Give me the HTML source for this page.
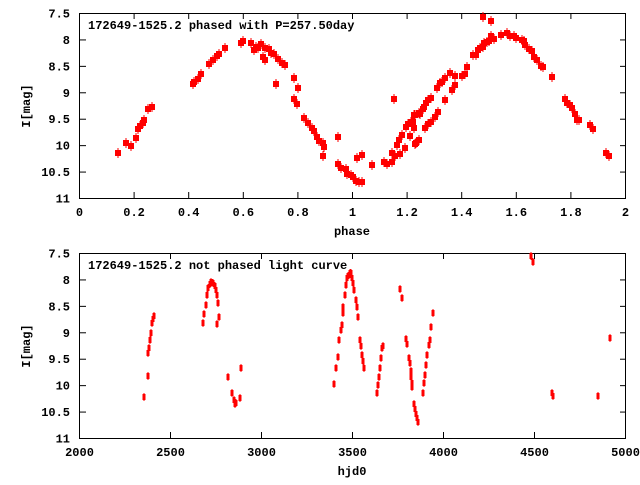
<!DOCTYPE html>
<html><head><style>
body{margin:0;background:#fff;}
svg text{font-family:"Liberation Mono","DejaVu Sans Mono",monospace;font-weight:bold;font-size:12px;fill:#000;}
</style></head><body>
<svg id="s" width="640" height="480" xmlns="http://www.w3.org/2000/svg">
<rect width="640" height="480" fill="#fff"/>
<g id="ax" stroke="#000" stroke-width="1" fill="none"></g>
<g id="lab"></g>
<g id="pts" fill="#ff0000" stroke="#ff0000"></g>
<text x="88" y="29">172649-1525.2 phased with P=257.50day</text>
<text x="88" y="269">172649-1525.2 not phased light curve</text>
<text x="352" y="235" text-anchor="middle">phase</text>
<text x="352" y="475" text-anchor="middle">hjd0</text>
<text transform="translate(30,106) rotate(-90)" text-anchor="middle">I[mag]</text>
<text transform="translate(30,346) rotate(-90)" text-anchor="middle">I[mag]</text>
</svg>
<script>
var NS="http://www.w3.org/2000/svg";
function el(p,t,a,txt){var e=document.createElementNS(NS,t);for(var k in a)e.setAttribute(k,a[k]);if(txt!==undefined)e.textContent=txt;document.getElementById(p).appendChild(e);return e;}
var yl=["7.5","8","8.5","9","9.5","10","10.5","11"];
function axes(top,bot,xl){
 el("ax","rect",{x:79.5,y:top+0.5,width:546,height:bot-top});
 for(var i=0;i<8;i++){var y=top+0.5+(bot-top)*i/7;
  if(i>0&&i<7){el("ax","line",{x1:80,y1:y,x2:86,y2:y});el("ax","line",{x1:620,y1:y,x2:626,y2:y});}
  el("lab","text",{x:70,y:y+4,"text-anchor":"end"},yl[i]);}
 var n=xl.length-1;
 for(var i=0;i<=n;i++){var x=79.5+546*i/n;
  if(i>0&&i<n){el("ax","line",{x1:x,y1:top,x2:x,y2:top+6});el("ax","line",{x1:x,y1:bot-6,x2:x,y2:bot});}
  el("lab","text",{x:x,y:bot+18,"text-anchor":"middle"},xl[i]);}
}
axes(13,198,["0","0.2","0.4","0.6","0.8","1","1.2","1.4","1.6","1.8","2"]);
axes(253,438,["2000","2500","3000","3500","4000","4500","5000"]);
var A=[118,153,126,143,131,146,136,138,138,129,140,126,143,123,144,120,148,109,152,107,193,84,194,82,198,79,201,74,209,64,213,60,217,56,219,54,225,48,241,43,243,41,251,43,254,50,256,47,258,48,261,44,263,57,265,60,265,48,269,49,271,53,274,54,276,84,278,59,282,63,285,65,294,78,298,88,294,99,297,104,304,118,308,123,312,128,314,131,317,137,319,141,323,143,324,147,323,156,338,137,338,164,341,168,346,169,347,174,351,175,353,177,356,181,359,182,362,182,357,158,362,155,372,165,384,162,387,164,392,162,392,153,394,99,395,156,397,145,399,140,400,154,402,135,405,148,406,127,408,124,410,136,411,122,413,122,414,115,414,128,416,143,419,140,419,113,412,123,415,115,414,128,415,144,420,114,423,109,424,107,425,128,426,103,428,100,428,124,431,98,431,122,435,117,438,112,437,88,440,83,442,82,445,78,445,100,450,73,452,90,455,76,455,85,462,76,465,74,467,67,473,55,476,55,478,50,480,48,483,47,484,43,487,42,489,41,491,36,494,39,483,17,491,21,501,35,507,33,510,36,514,36,516,38,522,40,524,41,525,45,529,49,532,51,534,57,537,60,541,66,543,67,552,77,565,99,567,103,570,105,572,108,575,114,577,120,579,120,590,125,593,129,606,153,609,156];
for(var i=0;i<A.length;i+=2){el("pts","rect",{x:A[i]-3,y:A[i+1]-3,width:6,height:6,stroke:"none"});el("pts","line",{x1:A[i],y1:A[i+1]-5,x2:A[i],y2:A[i+1]+5,"stroke-width":1});}
var B=[144,397,148,376,148,353,149,348,150,340,151,333,152,323,153,319,154,316,203,323,204,314,206,305,207,295,208,288,210,284,211,282,213,283,215,286,216,290,217,295,218,303,217,324,219,317,228,377,232,393,234,400,235,404,236,403,240,398,241,368,334,384,336,368,338,357,339,340,341,330,342,325,343,313,343,307,345,295,346,285,347,278,348,276,349,275,350,273,351,273,352,278,353,283,354,290,356,300,357,307,358,317,360,340,361,346,362,355,363,361,364,368,377,393,378,385,379,377,380,368,381,358,382,348,383,346,400,289,402,298,406,339,407,344,409,358,410,363,411,371,411,377,412,383,412,387,414,404,415,409,416,414,417,418,418,422,423,393,424,383,425,375,426,365,427,355,429,345,430,340,431,327,433,313,531,256,533,262,552,393,553,396,598,396,610,338];
for(var i=0;i<B.length;i+=2){el("pts","rect",{x:B[i]-1.5,y:B[i+1]-3,width:3,height:6,stroke:"none"});el("pts","line",{x1:B[i],y1:B[i+1]-4,x2:B[i],y2:B[i+1]+4,"stroke-width":1});}
</script>
</body></html>
